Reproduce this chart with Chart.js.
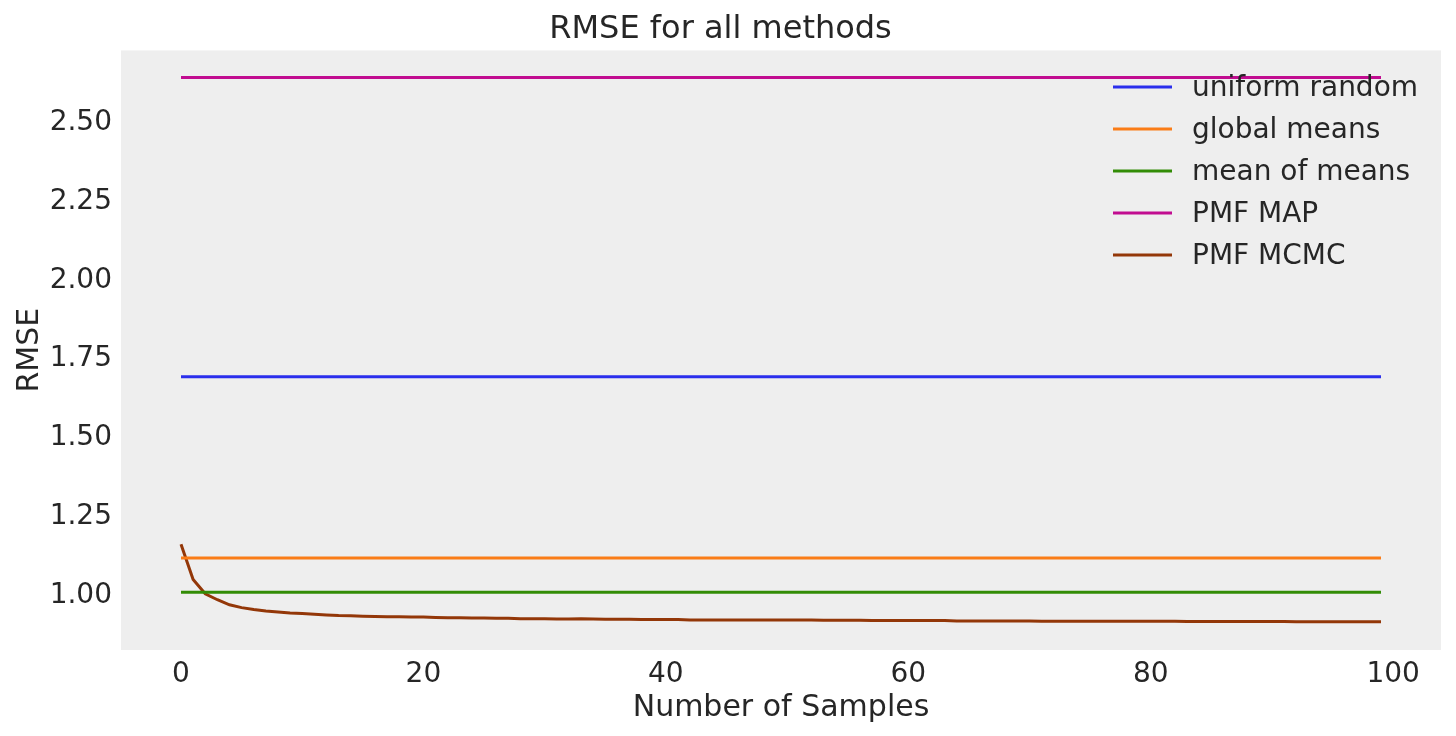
<!DOCTYPE html>
<html>
<head>
<meta charset="utf-8">
<script src="https://cdn.jsdelivr.net/npm/chart.js@4"></script>
<style>
  html, body { margin: 0; padding: 0; background: #ffffff; }
  #wrap { width: 1456px; height: 736px; }
</style>
</head>
<body>
<div id="wrap"><canvas id="rmseChart" width="1456" height="736"></canvas></div>
<script>
// Series names and colours
const methodNames = ['uniform random', 'global means', 'mean of means', 'PMF MAP', 'PMF MCMC'];
const methodColors = ['#2a2eec', '#fa7c17', '#328c06', '#c10c90', '#933708'];

// Constant baselines (RMSE)
const uniformRandom = 1.688;
const globalMeans = 1.114;
const meanOfMeans = 1.006;
const pmfMap = 2.636;

// PMF MCMC running RMSE, one per sample 0..99
const pmfMcmc = [
  1.158, 1.046, 1.001, 0.982, 0.966, 0.957, 0.951, 0.946, 0.943, 0.940,
  0.938, 0.936, 0.934, 0.932, 0.931, 0.930, 0.929, 0.928, 0.928, 0.927,
  0.927, 0.926, 0.925, 0.925, 0.924, 0.924, 0.923, 0.923, 0.922, 0.922,
  0.922, 0.921, 0.921, 0.922, 0.921, 0.920, 0.920, 0.920, 0.919, 0.919,
  0.919, 0.919, 0.918, 0.918, 0.918, 0.918, 0.918, 0.918, 0.918, 0.918,
  0.918, 0.918, 0.918, 0.917, 0.917, 0.917, 0.917, 0.916, 0.916, 0.916,
  0.916, 0.916, 0.916, 0.916, 0.915, 0.915, 0.915, 0.915, 0.915, 0.915,
  0.915, 0.914, 0.914, 0.914, 0.914, 0.914, 0.914, 0.914, 0.914, 0.914,
  0.914, 0.914, 0.914, 0.913, 0.913, 0.913, 0.913, 0.913, 0.913, 0.913,
  0.913, 0.913, 0.912, 0.912, 0.912, 0.912, 0.912, 0.912, 0.912, 0.912
];

// Sample indices
const samples = pmfMcmc.map((_, i) => i);

// Axis ticks
const xTicks = [0, 20, 40, 60, 80, 100];
const yTicks = [1.00, 1.25, 1.50, 1.75, 2.00, 2.25, 2.50];

const seriesValues = [
  samples.map(() => uniformRandom),
  samples.map(() => globalMeans),
  samples.map(() => meanOfMeans),
  samples.map(() => pmfMap),
  pmfMcmc
];

const FONT = "'DejaVu Sans', sans-serif";
const TEXT = '#262626';

// Grey plot background
const plotBackground = {
  id: 'plotBackground',
  beforeDraw(chart) {
    const { ctx, chartArea: a } = chart;
    ctx.save();
    ctx.fillStyle = '#eeeeee';
    ctx.fillRect(a.left, a.top, a.right - a.left, a.bottom - a.top);
    ctx.restore();
  }
};

// Legend inside the plot, top right, no frame
const innerLegend = {
  id: 'innerLegend',
  afterDatasetsDraw(chart) {
    const { ctx } = chart;
    ctx.save();
    ctx.font = '28px ' + FONT;
    ctx.textBaseline = 'middle';
    chart.data.datasets.forEach((ds, i) => {
      const y = 87 + i * 42;
      ctx.strokeStyle = ds.borderColor;
      ctx.lineWidth = 3;
      ctx.beginPath();
      ctx.moveTo(1113, y);
      ctx.lineTo(1172, y);
      ctx.stroke();
      ctx.fillStyle = TEXT;
      ctx.fillText(ds.label, 1192, y + 2);
    });
    ctx.restore();
  }
};

new Chart(document.getElementById('rmseChart').getContext('2d'), {
  type: 'line',
  data: {
    datasets: methodNames.map((name, k) => ({
      label: name,
      data: samples.map((s, i) => ({ x: s, y: seriesValues[k][i] })),
      borderColor: methodColors[k],
      borderWidth: 3,
      pointRadius: 0,
      tension: 0,
      fill: false
    }))
  },
  options: {
    responsive: false,
    animation: false,
    layout: { padding: { left: 0, right: 15, top: 0, bottom: 0 } },
    plugins: {
      legend: { display: false },
      tooltip: { enabled: false },
      title: {
        display: true,
        text: 'RMSE for all methods',
        color: TEXT,
        font: { family: FONT, size: 32, weight: 'normal' },
        padding: { top: 10, bottom: 2 }
      }
    },
    scales: {
      x: {
        type: 'linear',
        min: -4.95,
        max: 103.95,
        afterBuildTicks(scale) { scale.ticks = xTicks.map(v => ({ value: v })); },
        afterFit(scale) { scale.height = 86; },
        grid: { display: false, drawTicks: false },
        border: { display: false },
        ticks: {
          color: TEXT,
          padding: 8,
          font: { family: FONT, size: 28 },
          maxRotation: 0
        },
        title: {
          display: true,
          text: 'Number of Samples',
          color: TEXT,
          font: { family: FONT, size: 30 },
          padding: { top: 4, bottom: 10 }
        }
      },
      y: {
        type: 'linear',
        min: 0.8228,
        max: 2.7215,
        afterBuildTicks(scale) { scale.ticks = yTicks.map(v => ({ value: v })); },
        afterFit(scale) { scale.width = 121; },
        grid: { display: false, drawTicks: false },
        border: { display: false },
        ticks: {
          color: TEXT,
          padding: 9,
          labelOffset: 2,
          font: { family: FONT, size: 28 },
          callback: v => v.toFixed(2)
        },
        title: {
          display: true,
          text: 'RMSE',
          color: TEXT,
          font: { family: FONT, size: 30 },
          padding: { top: 12, bottom: 0 }
        }
      }
    }
  },
  plugins: [plotBackground, innerLegend]
});
</script>
